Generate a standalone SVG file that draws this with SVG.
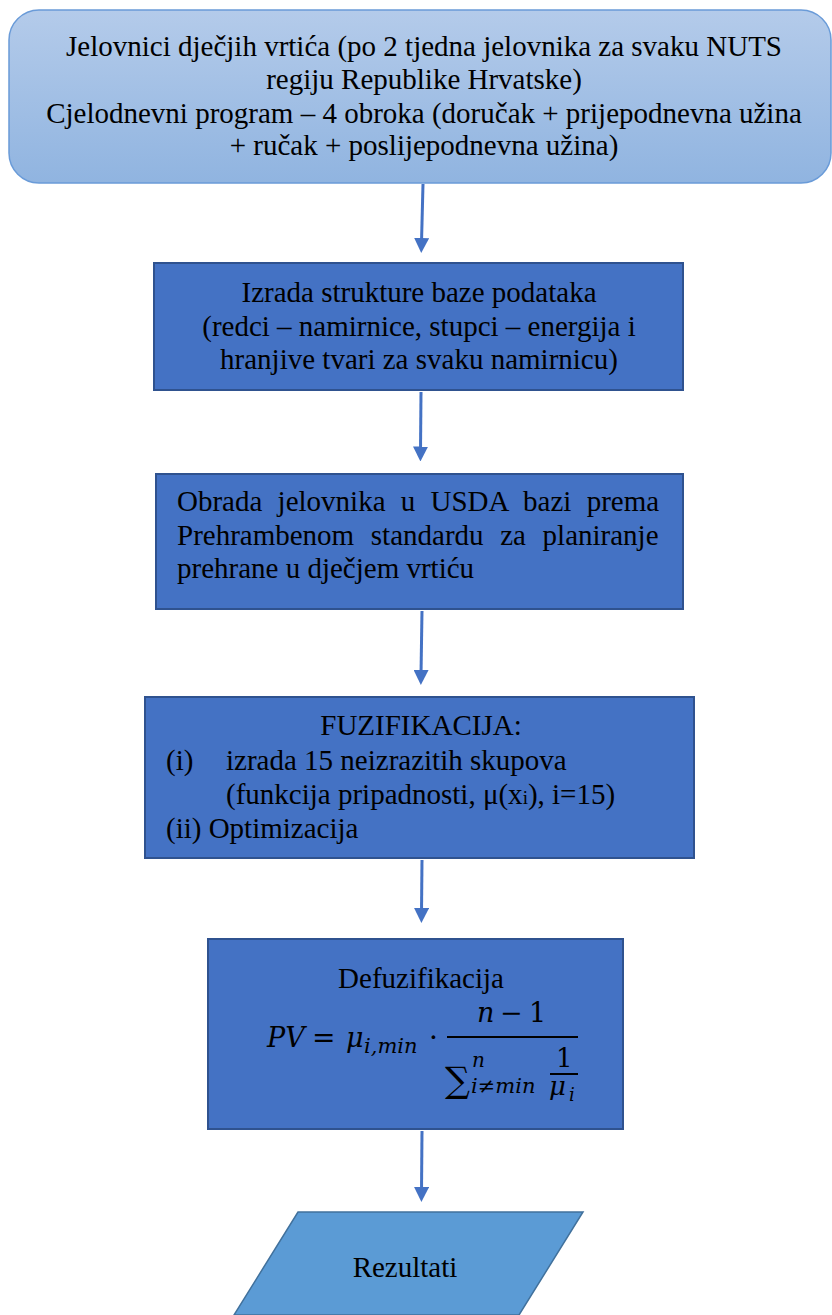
<svg xmlns="http://www.w3.org/2000/svg" width="832" height="1315" viewBox="0 0 832 1315">
<defs>
<linearGradient id="g1" x1="0" y1="0" x2="0" y2="1">
<stop offset="0" stop-color="#b4cbea"/>
<stop offset="1" stop-color="#90b4e0"/>
</linearGradient>
<marker id="ah" viewBox="0 0 10 10" refX="3" refY="5" markerWidth="5" markerHeight="5" orient="auto" markerUnits="strokeWidth">
<path d="M0,0 L10,5 L0,10 z" fill="#4472c4"/>
</marker>
<style>
.t{font-family:'Liberation Serif','Times New Roman',serif;font-size:29px;fill:#000}
.c{text-anchor:middle}
.box{fill:#4472c4;stroke:#2f528f;stroke-width:2}
.conn{stroke:#4472c4;stroke-width:3;fill:none;marker-end:url(#ah)}
.m{font-family:'DejaVu Serif',serif;font-style:italic;fill:#000}
.u{font-family:'DejaVu Serif',serif;fill:#000}
</style>
</defs>
<rect width="832" height="1315" fill="#fff"/>
<g id="connectors">
<line class="conn" x1="423" y1="184" x2="421.5" y2="242.5"/>
<line class="conn" x1="421" y1="392" x2="420.5" y2="451"/>
<line class="conn" x1="422" y1="611" x2="421" y2="674.5"/>
<line class="conn" x1="422" y1="860" x2="421.5" y2="912.5"/>
<line class="conn" x1="422" y1="1131" x2="421.5" y2="1191.5"/>
</g>
<g id="n1">
<rect x="9" y="10" width="822" height="173" rx="30" fill="url(#g1)" stroke="#6a9bd8" stroke-width="1.5"/>
<text class="t c" x="424" y="56">Jelovnici dječjih vrtića (po 2 tjedna jelovnika za svaku NUTS</text>
<text class="t c" x="424" y="89">regiju Republike Hrvatske)</text>
<text class="t c" x="424" y="122.5">Cjelodnevni program – 4 obroka (doručak + prijepodnevna užina</text>
<text class="t c" x="424" y="155">+ ručak + poslijepodnevna užina)</text>
</g>
<g id="n2">
<rect class="box" x="154" y="263" width="529" height="127"/>
<text class="t c" x="419" y="302">Izrada strukture baze podataka</text>
<text class="t c" x="419" y="336">(redci – namirnice, stupci – energija i</text>
<text class="t c" x="419" y="369">hranjive tvari za svaku namirnicu)</text>
</g>
<g id="n3">
<rect class="box" x="156" y="474" width="527" height="135"/>
<text class="t" x="177" y="511" word-spacing="8">Obrada jelovnika u USDA bazi prema</text>
<text class="t" x="177" y="545" word-spacing="9.4">Prehrambenom standardu za planiranje</text>
<text class="t" x="177" y="578">prehrane u dječjem vrtiću</text>
</g>
<g id="n4">
<rect class="box" x="145" y="697" width="549" height="161"/>
<text class="t c" x="421" y="735">FUZIFIKACIJA:</text>
<text class="t" x="166" y="770">(i)</text>
<text class="t" x="226" y="770">izrada 15 neizrazitih skupova</text>
<text class="t" x="226" y="804">(funkcija pripadnosti, μ(x<tspan font-size="19">i</tspan>), i=15)</text>
<text class="t" x="166" y="838">(ii) Optimizacija</text>
</g>
<g id="n5">
<rect class="box" x="208" y="939" width="415" height="190"/>
<text class="t c" x="421" y="988">Defuzifikacija</text>
<text class="m" x="267" y="1047" font-size="27">PV</text>
<text class="u" x="312" y="1047" font-size="28">=</text>
<text class="m" x="346" y="1047" font-size="27">μ</text>
<text class="m" x="364" y="1053" font-size="21">i,min</text>
<text class="u" x="429" y="1047" font-size="28">·</text>
<text class="m" x="477" y="1022" font-size="27">n</text>
<text class="u" x="500" y="1022" font-size="27">−</text>
<text class="u" x="529" y="1022" font-size="27">1</text>
<rect x="447" y="1036" width="131" height="2" fill="#000"/>
<text class="u" x="445" y="1092" font-size="35">∑</text>
<text class="m" x="472" y="1067" font-size="20">n</text>
<text class="m" x="471" y="1093" font-size="21">i≠min</text>
<text class="u" x="556" y="1067" font-size="26">1</text>
<rect x="550" y="1073" width="28" height="2" fill="#000"/>
<text class="m" x="549" y="1095" font-size="26">μ</text>
<text class="m" x="569" y="1101" font-size="18">i</text>
</g>
<g id="n6">
<path d="M298,1212 L583,1212 L519,1315 L234,1315 Z" fill="#5b9bd5" stroke="#41719c" stroke-width="1.5"/>
<text class="t c" x="405" y="1277">Rezultati</text>
</g>
</svg>
